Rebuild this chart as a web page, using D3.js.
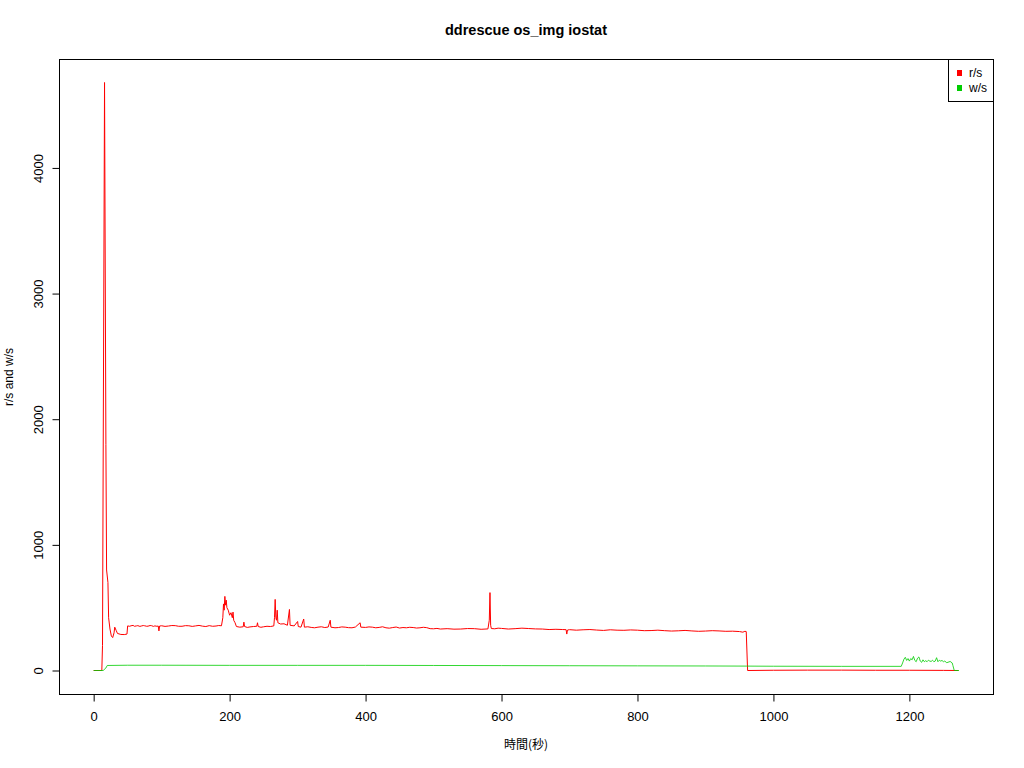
<!DOCTYPE html>
<html><head><meta charset="utf-8">
<script src="https://cdn.jsdelivr.net/npm/d3@7"></script>
<style>body{margin:0;background:#fff}svg{display:block}text{font-family:"Liberation Sans",Arial,sans-serif}</style>
</head><body>
<svg id="c" width="1024" height="768"></svg>
<script>
const title = "ddrescue os_img iostat";
const xLabel = "時間(秒)";
const yLabel = "r/s and w/s";
const seriesNames = ["r/s", "w/s"];
const seriesColors = ["#ff0000", "#00cd00"];
const xTicks = [0, 200, 400, 600, 800, 1000, 1200];
const yTicks = [0, 1000, 2000, 3000, 4000];

// r/s, in segments (time, value)
const rTimeA = [0,12,13,16,18,19,21,22,24,26,28,30,31,33,35,40,45,49];
const rValA  = [0,0,200,4680,1800,800,700,420,330,275,262,300,345,320,295,287,286,290];
const rTimeB = [50,53,55,58,60,63,65,68,70,73,75,78,80,83,85,88,90,93,95,96,97,100,105,110,115,120,125,130,135,140,145,150,155,160,165,170,175,180,184,188];
const rValB  = [355,352,356,359,352,355,357,351,354,358,356,352,353,358,357,351,355,352,354,315,354,356,351,354,358,357,352,352,357,356,351,355,359,353,350,357,352,354,358,356];
const rTimeC = [190,191,192,193,194,195,196,198,200,202,204,205,206,208,210];
const rValC  = [420,530,480,590,520,560,500,480,440,460,420,465,400,380,350];
const rTimeD = [215,220,221,222,226,230,235,240,241,242,246,250,255,260,265,266,267,268,269,270,271,275,280,285,288,289,295,300,301,305,309,310];
const rValD  = [345,348,385,350,343,347,350,352,380,350,344,348,352,350,355,420,566,420,400,480,380,370,372,360,486,360,355,390,350,345,410,345];
const rTimeE = [315,320,325,330,335,340,345,348,349,355,360,365,370,375,380,385,392,393,400,405,410,415,420,425,430,435,440,445,450,455,460,465,470,475,480,485,490,495];
const rValE  = [348,343,340,345,348,342,346,400,345,340,342,347,345,341,340,346,380,345,343,347,345,340,343,348,340,337,342,346,338,342,340,344,342,338,340,344,341,333];
const rTimeF = [500,505,510,520,530,540,550,560,570,580,582,583,584,585,590,595,600,610,620,630,640,650,660,670,680,690,695,696,697];
const rValF  = [332,335,330,333,329,330,334,333,328,331,400,620,360,334,332,337,335,330,333,337,334,331,330,326,328,326,325,290,322];
const rTimeG = [700,710,720,730,740,750,760,770,780,790,800,810,820,830,840,850,860,870,880,890,900,910,920,930,940,950,955,958,960,962,1000,1050,1100,1150,1200,1250,1272];
const rValG  = [325,321,324,326,322,319,324,321,320,323,321,317,318,321,317,314,316,319,315,312,314,317,315,312,313,310,305,312,310,0,2,3,3,2,2,1,0];

// w/s
const wTime = [0,14,18,20,50,100,200,300,400,500,600,700,800,900,960,1000,1100,1188,1190,1192,1194,1196,1198,1200,1202,1204,1206,1208,1210,1212,1214,1216,1218,1220,1222,1224,1226,1228,1230,1232,1234,1236,1238,1240,1242,1244,1246,1248,1250,1252,1255,1260,1263,1264,1266,1273];
const wVal  = [0,0,20,40,42,42,41,41,41,40,39,38,37,36,35,34,33,33,60,90,105,80,95,75,95,85,112,80,70,98,108,75,65,85,70,78,70,82,75,72,82,70,75,102,70,82,75,80,70,75,62,72,60,40,0,0];

const rTime = [].concat(rTimeA, rTimeB, rTimeC, rTimeD, rTimeE, rTimeF, rTimeG);
const rVal = [].concat(rValA, rValB, rValC, rValD, rValE, rValF, rValG);

const svg = d3.select("#c");
const L = 59, R = 993, T = 59, B = 694;
const x = d3.scaleLinear().domain([-51, 1323]).range([L, R]);
const y = d3.scaleLinear().domain([-187, 4867]).range([B, T]);

// title
svg.append("text").attr("x", 526).attr("y", 35).attr("text-anchor", "middle")
  .attr("font-weight", "bold").attr("font-size", 14.5).text(title);

// lines
const line = d3.line().x(d => x(d[0])).y(d => y(d[1]));
svg.append("path").datum(rTime.map((t, i) => [t, rVal[i]]))
  .attr("d", line).attr("fill", "none").attr("stroke", seriesColors[0]).attr("stroke-width", 1);
svg.append("path").datum(wTime.map((t, i) => [t, wVal[i]]))
  .attr("d", line).attr("fill", "none").attr("stroke", seriesColors[1]).attr("stroke-width", 1)
  .attr("stroke-opacity", 0.8);

// box
svg.append("rect").attr("x", L + 0.5).attr("y", T + 0.5).attr("width", R - L).attr("height", B - T)
  .attr("fill", "none").attr("stroke", "#000").attr("stroke-width", 1);

// x axis
const gx = svg.append("g").attr("transform", `translate(0,${B + 0.5})`)
  .call(d3.axisBottom(x).tickValues(xTicks).tickSize(7).tickPadding(10).tickFormat(d3.format("d")));
gx.select(".domain").attr("d", `M${x(0)},0H${x(1200)}`);
gx.selectAll("text").attr("font-size", 13).attr("font-family", "Liberation Sans, Arial, sans-serif");

// y axis
const gy = svg.append("g").attr("transform", `translate(${L + 0.5},0)`)
  .call(d3.axisLeft(y).tickValues(yTicks).tickSize(7).tickFormat(d3.format("d")));
gy.select(".domain").attr("d", `M0,${y(0)}V${y(4000)}`);
gy.selectAll(".tick").each(function(d){
  d3.select(this).select("text")
    .attr("font-size", 13).attr("font-family", "Liberation Sans, Arial, sans-serif")
    .attr("text-anchor", "middle")
    .attr("transform", "translate(-21,0) rotate(-90)").attr("x", 0).attr("y", 0).attr("dy", "0.35em");
});

// axis labels
svg.append("text").attr("x", 526).attr("y", 749).attr("text-anchor", "middle").attr("font-size", 12)
  .style("font-family", "'Noto Sans CJK JP', 'Liberation Sans', sans-serif").text(xLabel);
svg.append("text").attr("transform", `translate(13,${377}) rotate(-90)`).attr("text-anchor", "middle")
  .attr("font-size", 12).text(yLabel);

// legend
const lg = svg.append("g");
lg.append("rect").attr("x", 948.5).attr("y", 59.5).attr("width", 45).attr("height", 42)
  .attr("fill", "#fff").attr("stroke", "#000");
seriesNames.forEach((n, i) => {
  lg.append("rect").attr("x", 957).attr("y", 70 + i * 15).attr("width", 5).attr("height", 6).attr("fill", seriesColors[i]);
  lg.append("text").attr("x", 969).attr("y", 73 + i * 15).attr("dy", "0.35em").attr("font-size", 12).text(n);
});
</script>
</body></html>
